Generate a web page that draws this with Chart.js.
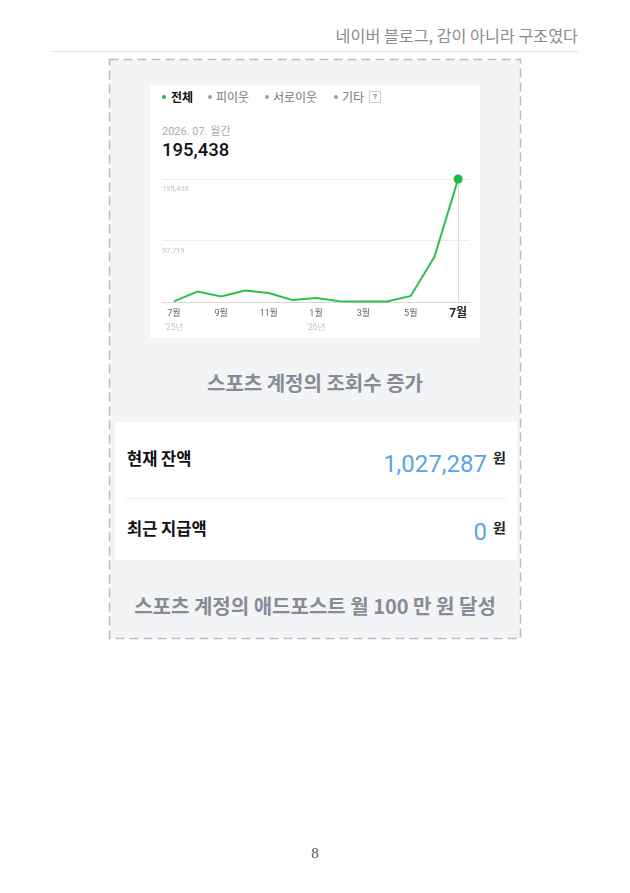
<!DOCTYPE html>
<html><head><meta charset="utf-8">
<script src="https://cdn.jsdelivr.net/npm/chart.js@4"></script>
<style>
html,body{margin:0;padding:0;background:#fff;}
body{width:630px;height:893px;position:relative;overflow:hidden;font-family:"Noto Sans CJK KR","Noto Sans",sans-serif;}
.a{position:absolute;white-space:nowrap;}
#hdr{right:52px;top:24px;font-size:16.2px;color:#8b8b8b;line-height:22px;}
#hline{left:52px;top:51px;width:526px;height:1px;background:#e3e3e3;}
#box{left:110px;top:60px;width:410px;height:578px;background:#f3f4f6;}
#card{left:150px;top:85px;width:330px;height:253px;background:#fff;}
.dot{width:4px;height:4px;border-radius:50%;top:95px;}
.lg{top:89px;line-height:16px;font-size:12px;color:#777;}
#q{left:369px;top:91px;width:10px;height:10px;border:1px solid #cfcfcf;font-size:8px;line-height:10px;text-align:center;color:#888;font-weight:bold;font-family:Roboto,sans-serif;}
#period{left:162px;top:124px;line-height:15px;font-size:11px;color:#ababab;font-family:Roboto,"Noto Sans CJK KR",sans-serif;}
#total{left:162px;top:139px;line-height:22px;font-size:18.5px;font-weight:500;color:#111;font-family:Roboto,sans-serif;}
#c{left:150px;top:165px;}
.cap{left:110px;width:410px;text-align:center;font-size:20px;font-weight:bold;color:#868b95;line-height:26px;}
#panel{left:115px;top:422px;width:402px;height:138px;background:#fff;}
.lbl{left:127px;font-size:16.5px;font-weight:bold;color:#111;line-height:22px;}
.amt{right:143px;font-size:24px;color:#5ba4e4;font-family:Roboto,sans-serif;line-height:28px;}
.won{left:493px;font-size:14px;font-weight:bold;color:#222;line-height:18px;}
#sep{left:125px;top:498px;width:382px;height:1px;background:#eeeeee;}
#pg{left:0;width:630px;text-align:center;top:843px;font-size:15px;line-height:20px;color:#555;font-family:"Liberation Serif","DejaVu Serif",serif;}
</style></head>
<body>
<div class="a" id="hdr">네이버 블로그, 감이 아니라 구조였다</div>
<div class="a" id="hline"></div>
<div class="a" id="box"></div>
<svg class="a" style="left:108px;top:58px" width="414" height="582"><rect x="1.5" y="1.5" width="411" height="579" fill="none" stroke="#b7bcc8" stroke-width="1.5" stroke-dasharray="9 5"/></svg>
<div class="a" id="card"></div>
<div class="a dot" style="left:162px;background:#1db83f"></div>
<div class="a lg" style="left:171px;color:#111;font-weight:bold">전체</div>
<div class="a dot" style="left:207.5px;background:#a0a0a0"></div>
<div class="a lg" style="left:216px">피이웃</div>
<div class="a dot" style="left:265px;background:#a0a0a0"></div>
<div class="a lg" style="left:273px">서로이웃</div>
<div class="a dot" style="left:333.5px;background:#a0a0a0"></div>
<div class="a lg" style="left:342px">기타</div>
<div class="a" id="q">?</div>
<div class="a" id="period">2026. 07. 월간</div>
<div class="a" id="total">195,438</div>
<canvas class="a" id="c" width="330" height="173"></canvas>
<div class="a cap" style="top:370px">스포츠 계정의 조회수 증가</div>
<div class="a" id="panel"></div>
<div class="a lbl" style="top:447px">현재 잔액</div>
<div class="a amt" style="top:450px">1,027,287</div>
<div class="a won" style="top:448px">원</div>
<div class="a" id="sep"></div>
<div class="a lbl" style="top:517px">최근 지급액</div>
<div class="a amt" style="top:518px">0</div>
<div class="a won" style="top:518px">원</div>
<div class="a cap" style="top:593px">스포츠 계정의 애드포스트 월 100 만 원 달성</div>
<div class="a" id="pg">8</div>
<script>
const months = ['7월','8월','9월','10월','11월','12월','1월','2월','3월','4월','5월','6월','7월'];
const years = ["'25년",'','','','','',"'26년",'','','','','',''];
const views = [1000,16600,8600,18200,14400,3200,6400,1100,800,800,9600,71800,195438];
const yTicks = [0,97719,195438];

const last = months.length - 1;
const yearPlugin = {
  id:'years',
  afterDraw(chart){
    const xs = chart.scales.x, ctx = chart.ctx;
    ctx.save();
    ctx.font = '8.5px Roboto, "Noto Sans CJK KR"';
    ctx.fillStyle = '#c4c4c4';
    ctx.textAlign = 'center';
    ctx.textBaseline = 'middle';
    years.forEach((t,i)=>{ if(t) ctx.fillText(t, xs.getPixelForTick(i), xs.top + 26); });
    ctx.restore();
  }
};
new Chart(document.getElementById('c'), {
  type:'line',
  data:{labels:months, datasets:[{
    data:views, borderColor:'#2cc14f', borderWidth:2, tension:0, fill:false, clip:false,
    pointRadius: ctx => ctx.dataIndex===last ? 4.5 : 0,
    pointHoverRadius: ctx => ctx.dataIndex===last ? 4.5 : 0,
    pointBackgroundColor:'#1db83f', pointBorderWidth:0
  }]},
  options:{
    responsive:false, animation:false, devicePixelRatio:1, events:[],
    layout:{padding:{top:14,right:10,left:0,bottom:0}},
    plugins:{legend:{display:false},tooltip:{enabled:false}},
    scales:{
      x:{
        offset:true,
        grid:{color: c => c.index===last ? '#dcdcdc' : 'rgba(0,0,0,0)', drawTicks:false},
        border:{display:true,color:'#d6d6d6'},
        ticks:{
          autoSkip:false, maxRotation:0, minRotation:0, padding:6,
          callback:(v,i)=> i%2===0 ? months[i] : '',
          color: c => c.index===last ? '#222' : '#666',
          font: c => c.index===last ? {family:'Roboto, "Noto Sans CJK KR"',size:12,weight:'bold',lineHeight:1} : {family:'Roboto, "Noto Sans CJK KR"',size:9}
        },
        afterFit: s => { s.height = 36; }
      },
      y:{
        min:0, max:yTicks[yTicks.length-1],
        afterBuildTicks: s => { s.ticks = yTicks.map(v=>({value:v})); },
        grid:{color:'#ececec', drawTicks:false},
        border:{display:false},
        ticks:{mirror:true, padding:0, labelOffset:10.5, color:'#c2c2c2',
          font:{size:7.5,family:'Roboto'},
          callback: v => v===0 ? '' : Number(v).toLocaleString('en-US')},
        afterFit: s => { s.width = 12; }
      }
    }
  },
  plugins:[yearPlugin]
});
</script>
</body></html>
